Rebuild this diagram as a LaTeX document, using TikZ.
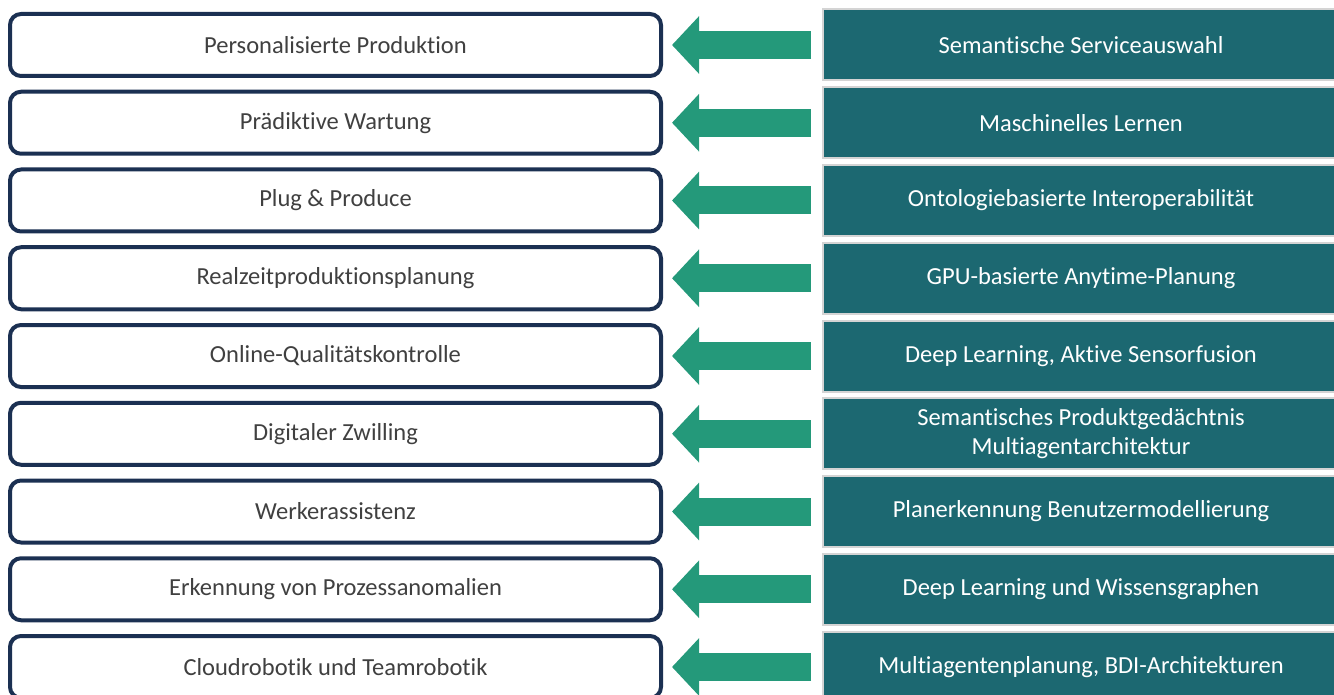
\documentclass[tikz,border=0pt]{standalone}
\usepackage{fontspec}
\setmainfont{Carlito}[Ligatures=NoCommon]
\usetikzlibrary{arrows.meta}
\definecolor{boxnavy}{HTML}{1B3052}
\definecolor{boxteal}{HTML}{1C6871}
\definecolor{arrowgreen}{HTML}{24997A}
\definecolor{textgray}{HTML}{404040}
\definecolor{rimgray}{HTML}{D4D4D4}
\tikzset{
  leftbox/.style={draw=boxnavy, line width=4pt, rounded corners=11pt, fill=white,
    minimum width=651pt, minimum height=62pt, inner sep=0pt,
    text=textgray, font=\fontsize{24.5}{29}\selectfont},
  rightbox/.style={draw=rimgray, line width=2pt, fill=boxteal,
    minimum width=516pt, minimum height=71pt, inner sep=0pt, align=center,
    text=white, font=\fontsize{24.5}{29}\selectfont},
  conn/.style={draw=arrowgreen, line width=28pt,
    -{Triangle[width=56pt,length=27pt]}, shorten <=11pt, shorten >=9pt}
}
\begin{document}
\begin{tikzpicture}[x=1pt,y=-1pt]
\useasboundingbox (0,0) rectangle (1334,695);
\clip (0,0) rectangle (1334,695);
\foreach \i/\lt/\rt in {
  1/Personalisierte Produktion/Semantische Serviceauswahl,
  2/Prädiktive Wartung/Maschinelles Lernen,
  3/Plug \& Produce/Ontologiebasierte Interoperabilität,
  4/Realzeitproduktionsplanung/GPU-basierte Anytime-Planung,
  5/Online-Qualitätskontrolle/{Deep Learning, Aktive Sensorfusion},
  6/Digitaler Zwilling/{Semantisches Produktgedächtnis\\Multiagentarchitektur},
  7/Werkerassistenz/Planerkennung Benutzermodellierung,
  8/Erkennung von Prozessanomalien/Deep Learning und Wissensgraphen,
  9/Cloudrobotik und Teamrobotik/{Multiagentenplanung, BDI-Architekturen}} {
  \pgfmathsetmacro{\cy}{45+77.75*(\i-1)}
  \node[leftbox] (l\i) at (335.5,\cy) {\lt};
  \node[rightbox] (r\i) at (1081,\cy) {\rt};
  \draw[conn] (r\i.west) -- (l\i.east);
}
\end{tikzpicture}
\end{document}
